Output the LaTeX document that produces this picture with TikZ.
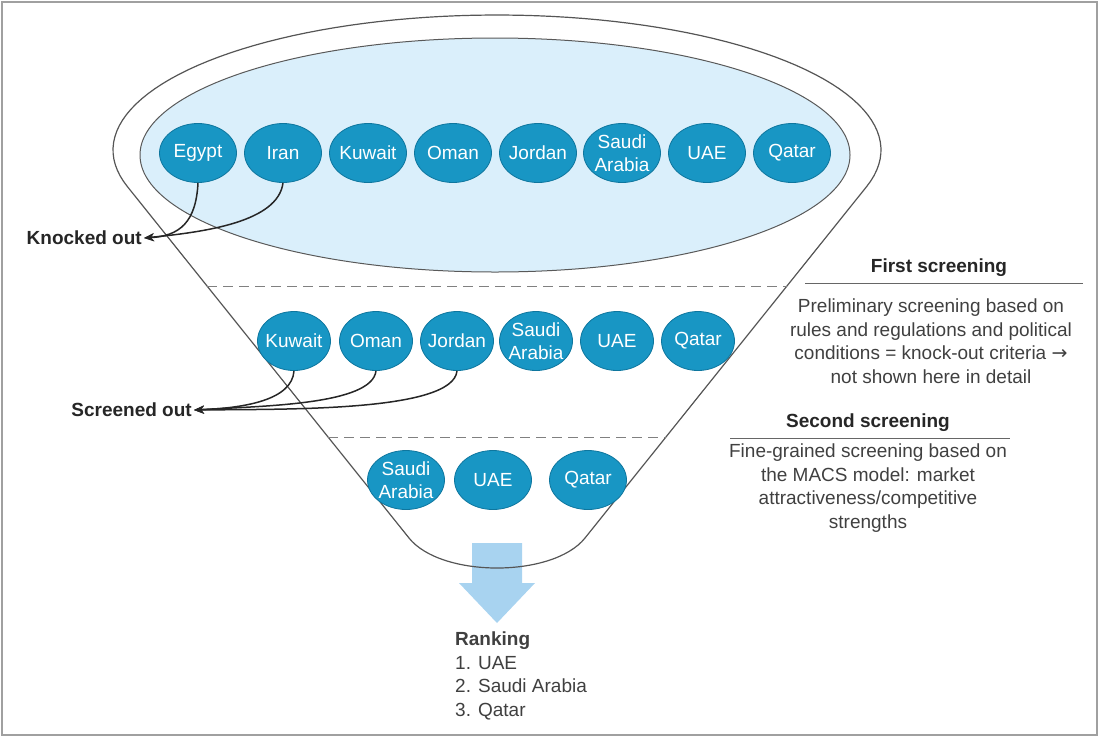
\documentclass[tikz,border=0pt]{standalone}
\usepackage{fontspec}
\setmainfont{Liberation Sans}
\newfontfamily\arrowfont{DejaVu Sans}
\usetikzlibrary{shapes.geometric,arrows.meta}
\definecolor{ctry}{RGB}{24,150,196}
\definecolor{ctryline}{RGB}{14,118,158}
\definecolor{lightfill}{RGB}{218,239,251}
\definecolor{bigarrow}{RGB}{168,211,240}
\definecolor{framegray}{RGB}{160,160,160}
\definecolor{linegray}{RGB}{85,85,85}
\begin{document}
\begin{tikzpicture}[x=1pt,y=-1pt,
  country/.style={ellipse, draw=ctryline, line width=0.8pt, fill=ctry, minimum width=77pt, minimum height=59pt, inner sep=-6pt, text=white, font=\fontsize{19}{23}\selectfont, align=center},
  countrysmall/.style={country, minimum width=73pt},
  arr/.style={draw=black!85, line width=1.5pt, -{Stealth[length=10pt,width=8pt]}},
  lbl/.style={font=\fontsize{19}{23.5}\selectfont\bfseries, text=black!85, inner sep=2pt},
  para/.style={font=\fontsize{19}{23.5}\selectfont, text=black!75, align=center, inner sep=0pt},
  divider/.style={draw=gray, dash pattern=on 10pt off 6pt, line width=1pt},
  rule/.style={draw=black!60, line width=1pt},
  funnel/.style={draw=linegray, line width=1.2pt}
]
\useasboundingbox (0,0) rectangle (1099,737);
% frame
\draw[framegray, line width=1.5pt] (2,2) rectangle (1097,735);

% big arrow
\fill[bigarrow] (472,543) -- (522,543) -- (522,583) -- (535,583) -- (497,623) -- (459,583) -- (472,583) -- cycle;

% funnel outline
\draw[funnel] plot[domain=164.3:375.7, samples=90] ({497+384*cos(\x)},{150+135*sin(\x)})
  -- (585,538) .. controls (553,578) and (441,578) .. (409,538) -- cycle;

% light inner ellipse
\draw[draw=black!65, line width=1pt, fill=lightfill] (495,155) ellipse [x radius=355, y radius=117];

% dashed dividers
\draw[divider] (207,286) -- (787,286);
\draw[divider] (328,437) -- (666,437);

% row 1
\node[country] (egypt)  at (198,153) {Egypt};
\node[country] (iran)   at (283,153) {Iran};
\node[country] (kuw1)   at (368,153) {Kuwait};
\node[country] (oman1)  at (453,153) {Oman};
\node[country] (jord1)  at (538,153) {Jordan};
\node[country] (saudi1) at (622,153) {Saudi\\Arabia};
\node[country] (uae1)   at (707,153) {UAE};
\node[country] (qatar1) at (792,153) {Qatar};

% row 2
\node[countrysmall] (kuw2)   at (294,341) {Kuwait};
\node[countrysmall] (oman2)  at (376,341) {Oman};
\node[countrysmall] (jord2)  at (457,341) {Jordan};
\node[countrysmall] (saudi2) at (536,341) {Saudi\\Arabia};
\node[countrysmall] (uae2)   at (617,341) {UAE};
\node[countrysmall] (qatar2) at (698,341) {Qatar};

% row 3
\node[country] (saudi3) at (406,480) {Saudi\\Arabia};
\node[country] (uae3)   at (493,480) {UAE};
\node[country] (qatar3) at (588,480) {Qatar};

% knocked out
\node[lbl, anchor=east] (ko) at (144,238) {Knocked out};
\draw[arr] (egypt.south) .. controls (196,222) and (180,236) .. (ko.east);
\draw[arr] (iran.south) .. controls (278,222) and (205,232) .. (ko.east);

% screened out
\node[lbl, anchor=east] (so) at (194,410) {Screened out};
\draw[arr] (kuw2.south) .. controls (292,400) and (245,408) .. (so.east);
\draw[arr] (oman2.south) .. controls (372,405) and (262,406) .. (so.east);
\draw[arr] (jord2.south) .. controls (453,412) and (285,409) .. (so.east);

% right side texts
\node[lbl] (first) at (939,268) {First screening};
\coordinate (r1a) at (805,283);
\coordinate (r1b) at (1083,283);
\draw[rule] (r1a) -- (r1b);
\node[para] (firstp) at (931,341) {Preliminary screening based on\\rules and regulations and political\\conditions = knock-out criteria {\arrowfont\fontsize{19}{23.5}\selectfont →}\\not shown here in detail};

\node[lbl] (second) at (868,423) {Second screening};
\coordinate (r2a) at (730,438);
\coordinate (r2b) at (1010,438);
\draw[rule] (r2a) -- (r2b);
\node[para] (secondp) at (868,488) {Fine-grained screening based on\\the MACS model: market\\attractiveness/competitive\\strengths};

% ranking
\node[para, align=left, anchor=west] (rank) at (455,676) {\textbf{Ranking}\\1. UAE\\2. Saudi Arabia\\3. Qatar};
\end{tikzpicture}
\end{document}
